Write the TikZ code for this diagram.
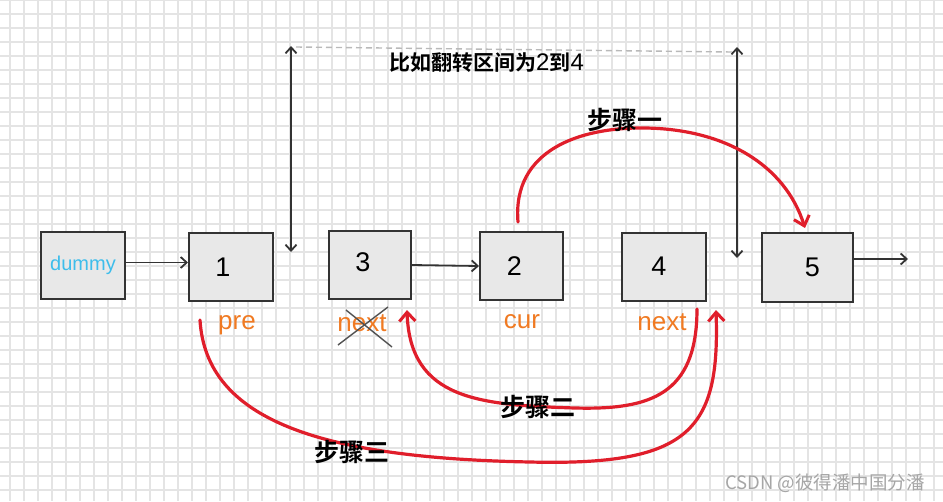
\documentclass[tikz,border=0pt]{standalone}
\usepackage{fontspec}
\setmainfont{Liberation Sans}
\newfontfamily\cjk{Noto Sans CJK SC}
\newfontfamily\cjkb{Noto Sans CJK SC Bold}
\usetikzlibrary{arrows.meta,calc}
\definecolor{gridc}{HTML}{E4E4E4}
\definecolor{boxfill}{HTML}{E8E8E8}
\definecolor{boxline}{HTML}{333333}
\definecolor{lab}{HTML}{F07A22}
\definecolor{dum}{HTML}{3DBDEB}
\definecolor{stepred}{HTML}{E01E2B}
\tikzset{
  listbox/.style={draw=boxline, fill=boxfill, line width=2pt, inner sep=0pt, font=\fontsize{27}{27}\selectfont},
  link/.style={draw=boxline, line width=1.8pt, -{Straight Barb[length=6pt,width=11pt,line width=1.8pt]}},
  span/.style={draw=boxline, line width=1.8pt, {Straight Barb[length=6pt,width=11pt,line width=1.8pt]}-{Straight Barb[length=6pt,width=11pt,line width=1.8pt]}},
  stepline/.style={draw=stepred, line width=3.2pt, line cap=round, -{Straight Barb[length=9pt,width=16pt,line width=3pt]}},
  ptr/.style={text=lab, font=\fontsize{26}{26}\selectfont},
  steptxt/.style={font=\cjkb\fontsize{25}{25}\selectfont, text=black},
}
\begin{document}
\begin{tikzpicture}[x=1pt,y=-1pt]
\useasboundingbox (0,0) rectangle (943,501);
\fill[white] (0,0) rectangle (943,501);
% grid
\foreach \gx in {10,24,...,943} \draw[gridc, line width=1.6pt] (\gx,0) -- (\gx,501);
\foreach \gy in {0,14,...,501} \draw[gridc, line width=1.6pt] (0,\gy) -- (943,\gy);

% boxes
\node[listbox, minimum width=84pt, minimum height=67pt, text=dum, font=\fontsize{20}{20}\selectfont] (dummy) at (83,265.5) {dummy};
\node[listbox, minimum width=84pt, minimum height=68pt] (n1) at (231,267) {\hspace*{-16pt}1};
\node[listbox, minimum width=82pt, minimum height=68pt] (n3) at (370,265) {\raisebox{5pt}{\hspace*{-14pt}3}};
\node[listbox, minimum width=83pt, minimum height=68pt] (n2) at (521.5,266) {\hspace*{-14pt}2};
\node[listbox, minimum width=84pt, minimum height=68pt] (n4) at (664,267) {\raisebox{2pt}{\hspace*{-10pt}4}};
\node[listbox, minimum width=91pt, minimum height=69pt] (n5) at (807.5,267.5) {\raisebox{-4pt}{\hspace*{10pt}5}};

% links
\draw[link] (dummy.east) ++(0,-3) coordinate (d1) -- (d1 -| n1.west);
\draw[link] (n3.east) -- (n2.west);
\coordinate (tail) at (908,259);
\draw[link] (n5.east |- tail) -- (tail);

% range markers
\coordinate (lt) at (291,46);
\coordinate (lb) at (291,252);
\coordinate (rt) at (737,47);
\coordinate (rb) at (737,258);
\draw[span] (lb) -- (lt);
\draw[span] (rb) -- (rt);
\draw[draw=gray!55, line width=1.4pt, dashed, dash pattern=on 6pt off 4pt] (296,47) -- (732,52);
\node[font=\cjkb\fontsize{21}{21}\selectfont, anchor=west, inner sep=0pt] (title) at (389,63) {比如翻转区间为{\rmfamily\mdseries\fontsize{24}{24}\selectfont 2}到{\rmfamily\mdseries\fontsize{24}{24}\selectfont 4}};

% pointer labels
\node[ptr] (pre) at (237,325) {pre};
\node[ptr] (nx3) at (362,323) {next};
\node[ptr] (cur) at (522,322) {cur};
\node[ptr] (nx4) at (662,322) {next};
\draw[boxline!85, line width=1.4pt] (338,345) -- (388,307);
\draw[boxline!85, line width=1.4pt] (346,310) -- (392,347);

% step 1
\coordinate (s1a) at (518,222);
\coordinate (s1b) at (805,228);
\draw[stepline] (s1a) .. controls (512,150) and (580,127) .. (645,128) .. controls (725,129) and (785,165) .. (s1b);
\node[steptxt] (st1) at (625,120) {步骤一};

% step 2
\coordinate (s2a) at (697,309);
\coordinate (s2b) at (407,310);
\draw[stepline] (s2a) .. controls (697,395) and (650,410) .. (575,408) .. controls (480,405) and (410,400) .. (s2b);
\node[steptxt] (st2) at (538,407) {步骤二};

% step 3
\coordinate (s3a) at (200,320);
\coordinate (s3b) at (716,310);
\draw[stepline] (s3a) .. controls (206,420) and (320,458) .. (530,462) .. controls (690,466) and (720,430) .. (s3b);
\node[steptxt] (st3) at (352,452) {步骤三};

% watermark
\node[text=gray!70, font=\cjk\fontsize{18.5}{18.5}\selectfont, anchor=east, inner sep=0pt] (wm) at (925,483) {CSDN @彼得潘中国分潘};
\end{tikzpicture}
\end{document}
